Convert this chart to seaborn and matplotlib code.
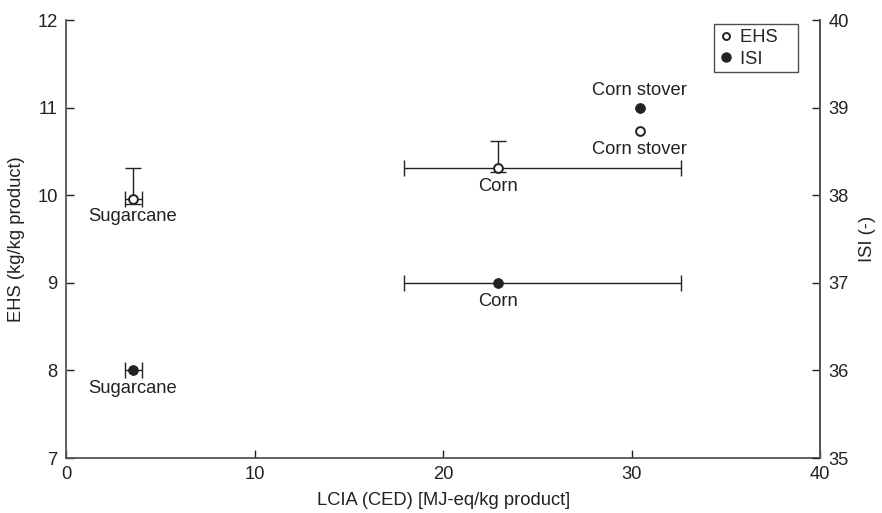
import matplotlib
matplotlib.use("Agg")
import matplotlib.pyplot as plt
import seaborn as sns
import pandas as pd
from matplotlib.lines import Line2D

# EHS points (left axis)
ehs_names = ["Sugarcane", "Corn", "Corn stover"]
ehs_x = [3.55, 22.93, 30.42]
ehs_y = [9.96, 10.31, 10.73]
ehs_xerr_lo = [0.42, 5.03, 0.0]
ehs_xerr_hi = [0.45, 9.67, 0.0]
ehs_yerr_lo = [0.06, 0.05, 0.0]
ehs_yerr_hi = [0.35, 0.31, 0.0]

# ISI points (right axis)
isi_names = ["Sugarcane", "Corn", "Corn stover"]
isi_x = [3.55, 22.93, 30.42]
isi_y = [36.0, 37.0, 39.0]
isi_xerr_lo = [0.42, 5.03, 0.0]
isi_xerr_hi = [0.45, 9.67, 0.0]

ehs = pd.DataFrame({"name": ehs_names, "x": ehs_x, "y": ehs_y,
                    "xlo": ehs_xerr_lo, "xhi": ehs_xerr_hi,
                    "ylo": ehs_yerr_lo, "yhi": ehs_yerr_hi})
isi = pd.DataFrame({"name": isi_names, "x": isi_x, "y": isi_y,
                    "xlo": isi_xerr_lo, "xhi": isi_xerr_hi})

sns.set_style("ticks")
plt.rcParams["font.family"] = ["Liberation Sans", "DejaVu Sans"]
fs = 13.2

ink = "#222222"
fig, ax = plt.subplots(figsize=(8.82, 5.13), dpi=100)
ax2 = ax.twinx()

# error bars only where there is an interval
e = ehs[(ehs.xlo + ehs.xhi + ehs.ylo + ehs.yhi) > 0]
ax.errorbar(e["x"], e["y"], xerr=[e["xlo"], e["xhi"]],
            yerr=[e["ylo"], e["yhi"]], fmt="none", ecolor=ink,
            elinewidth=1.0, capsize=5.5, capthick=1.0)
i = isi[(isi.xlo + isi.xhi) > 0]
ax2.errorbar(i["x"], i["y"], xerr=[i["xlo"], i["xhi"]],
             fmt="none", ecolor=ink, elinewidth=1.0, capsize=5.5, capthick=1.0)

sns.scatterplot(data=ehs, x="x", y="y", ax=ax, marker="o", s=40,
                facecolor="white", edgecolor=ink, linewidth=1.4, zorder=5)
sns.scatterplot(data=isi, x="x", y="y", ax=ax2, marker="o", s=50,
                color=ink, edgecolor=ink, zorder=5)

# point labels
for n, x, y in zip(ehs_names, ehs_x, ehs_y):
    ax.annotate(n, (x, y), xytext=(0, -7), textcoords="offset points",
                ha="center", va="top", fontsize=fs, color=ink)
for n, x, y in zip(isi_names, isi_x, isi_y):
    if n == "Corn stover":
        ax2.annotate(n, (x, y), xytext=(0, 6), textcoords="offset points",
                     ha="center", va="bottom", fontsize=fs, color=ink)
    else:
        ax2.annotate(n, (x, y), xytext=(0, -7), textcoords="offset points",
                     ha="center", va="top", fontsize=fs, color=ink)

ax.set_xlim(0, 40)
ax.set_ylim(7, 12)
ax2.set_ylim(35, 40)
ax.set_xticks([0, 10, 20, 30, 40])
ax.set_yticks([7, 8, 9, 10, 11, 12])
ax2.set_yticks([35, 36, 37, 38, 39, 40])
ax.set_xlabel("LCIA (CED) [MJ-eq/kg product]", color=ink, fontsize=fs, labelpad=6)
ax.set_ylabel("EHS (kg/kg product)", color=ink, fontsize=fs, labelpad=9)
ax2.set_ylabel("ISI (-)", color=ink, fontsize=fs, labelpad=7)

for a in (ax, ax2):
    a.tick_params(direction="in", length=6, width=1.0, colors=ink,
                  labelsize=fs, pad=6)
    a.spines["top"].set_visible(False)
    for s in ("left", "right", "bottom"):
        a.spines[s].set_color("#555555")
        a.spines[s].set_linewidth(1.3)
ax2.spines["left"].set_visible(False)
ax2.spines["bottom"].set_visible(False)

handles = [
    Line2D([], [], marker="o", linestyle="none", markerfacecolor="white",
           markeredgecolor=ink, markeredgewidth=1.4, markersize=5),
    Line2D([], [], marker="o", linestyle="none", color=ink, markersize=6.5),
]
leg = ax2.legend(handles, ["EHS   ", "ISI   "], loc="upper right",
                 bbox_to_anchor=(0.97, 0.99), frameon=True, fancybox=False,
                 edgecolor=ink, handletextpad=0.35, borderpad=0.25,
                 handlelength=0.8, labelspacing=0.25, fontsize=fs,
                 borderaxespad=0.0)
leg.get_frame().set_linewidth(1.0)

plt.subplots_adjust(left=0.075, right=0.93, top=0.961, bottom=0.107)
plt.savefig("out.png", dpi=100)
